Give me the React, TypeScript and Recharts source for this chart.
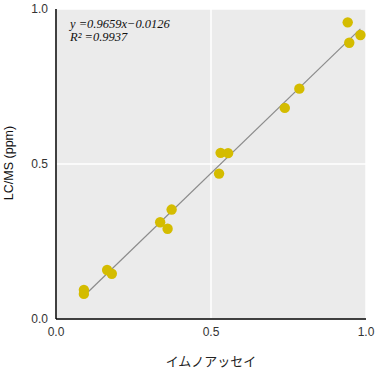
import { CartesianGrid, Label, ReferenceLine, Scatter, ScatterChart, XAxis, YAxis } from 'recharts';

const immunoassay = [0.09, 0.09, 0.165, 0.18, 0.336, 0.36, 0.373, 0.526, 0.531, 0.555, 0.738, 0.785, 0.941, 0.946, 0.982];
const lcms = [0.094, 0.081, 0.158, 0.146, 0.312, 0.291, 0.353, 0.469, 0.536, 0.535, 0.681, 0.743, 0.957, 0.891, 0.916];
const ticks = [0, 0.5, 1];
const slope = 0.9659;
const intercept = -0.0126;

const points = immunoassay.map((x, i) => ({ x, y: lcms[i] }));
const xMin = Math.min(...immunoassay);
const xMax = Math.max(...immunoassay);

const tickStyle = { fill: '#333', fontSize: 12, fontFamily: 'Arial, "Liberation Sans", sans-serif' };
const serif = '"Liberation Serif", "Times New Roman", serif';

export default function App() {
  return (
    <div style={{ position: 'absolute', left: 0, top: 0, background: '#fff' }}>
      <ScatterChart width={377} height={371} margin={{ top: 9, right: 11, left: 0, bottom: 0 }}>
        <CartesianGrid fill="#EBEBEB" stroke="#fff" strokeWidth={1.5} />
        <XAxis
          type="number"
          dataKey="x"
          domain={[0, 1]}
          ticks={ticks}
          tickFormatter={v => v.toFixed(1)}
          tick={tickStyle}
          tickLine={false}
          axisLine={{ stroke: '#000', strokeWidth: 1.5 }}
          height={52}
          tickMargin={2}
        >
          <Label
            content={() => (
              <text x={211} y={366} textAnchor="middle" fontSize={13} fill="#222" fontFamily='"Noto Sans CJK JP", sans-serif'>
                イムノアッセイ
              </text>
            )}
          />
        </XAxis>
        <YAxis
          type="number"
          dataKey="y"
          domain={[0, 1]}
          ticks={ticks}
          tickFormatter={v => v.toFixed(1)}
          tick={tickStyle}
          tickLine={false}
          axisLine={{ stroke: '#000', strokeWidth: 1.5 }}
          width={56}
          tickMargin={2}
        >
          <Label
            content={() => (
              <text
                x={13}
                y={163}
                transform="rotate(-90 13 163)"
                textAnchor="middle"
                fontSize={12.5}
                fill="#111"
                fontFamily='Arial, "Liberation Sans", sans-serif'
              >
                LC/MS (ppm)
              </text>
            )}
          />
        </YAxis>
        <ReferenceLine
          segment={[
            { x: xMin, y: slope * xMin + intercept },
            { x: xMax, y: slope * xMax + intercept },
          ]}
          stroke="#8c8c8c"
          strokeWidth={1.2}
        />
        <Scatter
          data={points}
          fill="#D4BC00"
          isAnimationActive={false}
          shape={(p: any) => <circle cx={p.cx} cy={p.cy} r={5.2} fill="#D4BC00" />}
        />
        <text x={70} y={28} fontSize={12.5} fontStyle="italic" fill="#111" fontFamily={serif}>
          y =0.9659x−0.0126
        </text>
        <text x={70} y={41} fontSize={12.5} fontStyle="italic" fill="#111" fontFamily={serif}>
          R² =0.9937
        </text>
      </ScatterChart>
    </div>
  );
}
